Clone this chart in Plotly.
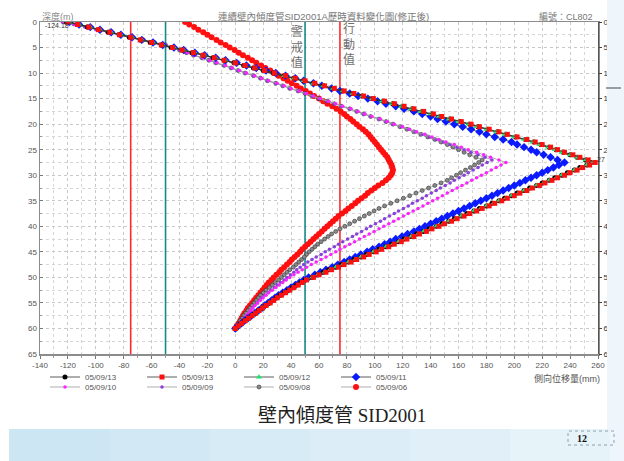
import plotly.graph_objects as go

# ---------------- data ----------------
depth_m = [0.0, 0.5, 1.0, 1.5, 2.0, 2.5, 3.0, 3.5, 4.0, 4.5, 5.0, 5.5, 6.0, 6.5, 7.0, 7.5, 8.0, 8.5, 9.0, 9.5,
           10.0, 10.5, 11.0, 11.5, 12.0, 12.5, 13.0, 13.5, 14.0, 14.5, 15.0, 15.5, 16.0, 16.5, 17.0, 17.5, 18.0, 18.5, 19.0, 19.5,
           20.0, 20.5, 21.0, 21.5, 22.0, 22.5, 23.0, 23.5, 24.0, 24.5, 25.0, 25.5, 26.0, 26.5, 27.0, 27.5, 28.0, 28.5, 29.0, 29.5,
           30.0, 30.5, 31.0, 31.5, 32.0, 32.5, 33.0, 33.5, 34.0, 34.5, 35.0, 35.5, 36.0, 36.5, 37.0, 37.5, 38.0, 38.5, 39.0, 39.5,
           40.0, 40.5, 41.0, 41.5, 42.0, 42.5, 43.0, 43.5, 44.0, 44.5, 45.0, 45.5, 46.0, 46.5, 47.0, 47.5, 48.0, 48.5, 49.0, 49.5,
           50.0, 50.5, 51.0, 51.5, 52.0, 52.5, 53.0, 53.5, 54.0, 54.5, 55.0, 55.5, 56.0, 56.5, 57.0, 57.5, 58.0, 58.5, 59.0, 59.5,
           60.0]

s_0913_black = [-121, -113, -106, -98, -91, -83, -76, -68, -61, -53, -46, -38, -31, -23, -16, -8, -1,
                6, 13, 20, 27, 35, 42, 49, 56, 63, 70, 77, 84, 91, 98, 106, 113, 120, 127, 134,
                141, 147, 154, 161, 168, 174, 181, 188, 194, 201, 208, 214,
                219, 225, 230, 235, 240, 245, 251, 255,
                252, 247, 243, 238, 234, 229, 225, 220, 216, 211, 207, 202, 198, 193, 189, 184, 180, 175, 171, 166,
                162, 157, 153, 148, 144, 139, 135, 130, 126, 121, 117, 112, 108, 103, 99, 94, 90, 85, 81, 76,
                72, 67, 63, 59, 55, 50,
                47, 44, 41, 38, 35, 32, 29.5, 27, 24.5, 21.5, 19, 16.5, 14, 11.5, 9, 6.5, 4, 2, 0]

s_0913_red = [-120, -113, -105, -98, -90, -83, -75, -68, -60, -53, -45, -38, -30, -23, -15, -8, 0,
              7, 14, 21, 28, 36, 43, 50, 57, 64, 71, 78, 85, 92, 99, 107, 114, 121, 128, 135,
              142, 148, 155, 162, 169, 175, 182, 189, 195, 202, 209, 215,
              220, 226, 231, 236, 242, 247, 253, 258,
              254, 249, 245, 240, 236, 231, 227, 222, 218, 213, 209, 204, 200, 195, 191, 186, 182, 177, 173, 168,
              164, 159, 155, 150, 146, 141, 137, 132, 128, 123, 119, 114, 110, 105, 101, 96, 92, 87, 83, 78,
              74, 69, 65, 60, 56, 51,
              48, 45, 42, 39, 36, 33, 30, 27.5, 25, 22, 19.5, 17, 14.5, 12, 9.5, 7, 4.5, 2, 0]

s_0912 = [-119, -112, -104, -97, -89, -82, -74, -67, -59, -52, -44, -37, -29, -22, -14, -7, 0,
          7, 14, 21, 28, 35, 42, 49, 56, 63, 70, 77, 84, 91, 98, 105, 112, 119, 126, 133,
          140, 146, 153, 160, 167, 173, 180, 187, 193, 200, 207, 213,
          218, 224, 229, 234, 240, 245, 251, 256,
          252, 248, 243, 239, 234, 230, 225, 221, 216, 212, 207, 203, 198, 194, 189, 185, 180, 176, 171, 167,
          162, 158, 153, 149, 144, 140, 135, 131, 126, 122, 117, 113, 108, 104, 99, 95, 90, 86, 81, 77,
          72, 68, 64, 59, 55, 51,
          48, 45, 42, 39, 36, 33, 30, 27, 24.5, 22, 19.5, 17, 14.5, 12, 9.5, 7, 4.5, 2, 0]

s_0911 = [-119, -112, -104, -97, -89, -82, -74, -67, -59, -52, -44, -37, -29, -22, -14, -7, 1,
          8, 15, 22, 29, 36, 43, 49, 56, 62, 69, 75, 82, 88, 95, 102, 108, 115, 121, 128,
          134, 140, 145, 151, 157, 163, 169, 175, 180, 186, 192, 198,
          202, 207, 212, 216, 221, 226, 231, 236,
          232, 228, 224, 220, 216, 212, 208, 204, 200, 196, 192, 188, 184, 180, 176, 172, 168, 164, 160, 156,
          152, 148, 144, 140, 136,
          132, 128, 123.5, 119.5, 115, 111, 107, 103, 98.5, 94.5, 90, 86, 82, 78, 73.5, 69.5, 65, 61, 57, 52.5, 49,
          46, 43, 40, 37, 34, 31, 28.5, 26, 23.5, 21, 19, 16.5, 14, 11.5, 9, 6.5, 4.5, 2, 0]

s_0910 = [-123, -115, -107, -99, -91, -83, -74, -66, -58, -50,
          -45, -39, -34, -29, -23, -18, -13, -7, -2, 3, 8, 14, 19, 24, 30, 35, 40, 46, 51, 56,
          61, 67, 72, 77, 83, 88, 93, 98, 104, 109, 114, 120, 125, 130, 136, 141, 146, 151, 157, 162,
          167, 173, 178, 183, 189, 194,
          190.5, 187, 183.5, 180, 176.5, 173, 169.5, 166, 162.5, 159, 155.5, 152, 148.5, 145, 141.5, 138,
          134.5, 131, 127.5, 124, 120.5, 117, 113.5, 110, 106.5, 103, 99.5, 96, 92.5, 89, 85.5, 82, 78.5, 75,
          72, 68.5, 65, 61.5, 58, 54.5, 51, 48, 45, 42, 39, 36.5, 34, 31.5, 29, 26.5, 24, 22, 20, 18,
          16, 14, 12.5, 11, 9.5, 8, 6.5, 5, 3.5, 1.5, 0]

s_0909 = [-124, -116, -108, -100, -92, -84, -75, -67, -59, -51,
          -46, -40, -35, -30, -24, -19, -14, -8, -3, 2, 7, 13, 18, 23, 29, 34, 39, 45, 50, 55,
          60, 66, 71, 76, 82, 87, 92, 97, 103, 108, 113,
          119, 124, 129, 134, 139, 144, 149, 154, 159, 164, 169, 174, 179, 184,
          180.5, 177, 174, 170.5, 167, 164, 160.5, 157, 154, 150.5, 147, 144, 140.5, 137, 134, 130.5,
          127, 124, 120.5, 117, 114, 110.5, 107, 104, 100.5, 97, 94, 90.5, 87, 84, 80.5, 77, 74,
          71, 67.5, 64.5, 61.5, 58, 55, 52, 49,
          46.5, 44, 42, 39.5, 37, 35, 32.5, 30, 28, 25.5, 23.5, 21, 19,
          17.5, 16, 14, 12.5, 11, 9.5, 8, 6.5, 5, 3, 1.5, 0]

s_0908 = [-122, -114, -106, -98, -90, -82, -74, -66, -58, -50,
          -46, -40, -35, -30, -24, -19, -14, -8, -3, 2, 7, 13, 18, 23, 29, 34, 39, 45, 50, 55,
          60, 66, 71, 76, 82, 87, 92, 97, 103,
          108, 113, 118, 123, 128, 133, 138, 143, 147.5, 152, 156, 160, 164, 168, 172.5, 177,
          174.5, 171.5, 168.5, 165, 161.5, 158.5, 155, 152, 147.5, 143, 138.5, 134, 129.5, 125, 120.5, 116,
          111.5, 107, 103, 99.5, 96, 92.5, 89, 85.5, 82, 78.5, 75, 72, 69, 66.5, 64, 61.5, 59, 57, 55, 53,
          51, 49.5, 47.5, 45.5, 43.5, 41.5, 39, 37, 35, 33, 31, 28.5, 26.5, 24.5, 22, 20, 18, 16.5, 15, 13.5,
          12, 10.5, 9, 7.5, 6, 5, 3.5, 2.5, 1, 0]

s_0906 = [-36, -33, -29.5, -26.5, -23, -20, -17, -13.5, -10.5, -7, -4, -0.5, 2.5, 5.5, 9, 12, 15, 18.5, 21.5, 25,
          28, 31, 34.5, 37.5, 40.5, 44, 47, 50.5, 53.5, 56.5, 60, 63, 66, 69.5, 72.5, 75.5,
          78, 80, 82.5, 84.5, 87, 89, 91.5, 93.5, 95.5,
          97, 98.5, 100, 101.5, 103, 104.5, 106, 107.5, 109, 110, 111, 112, 112.5, 113, 112.5, 111.5, 110, 108,
          105.5, 102.5, 100,
          97.5, 95, 93, 90.5, 88, 86, 83.5, 81, 79, 76.5, 74,
          72, 70, 68, 66, 64, 62, 60, 58, 56, 54, 52, 50,
          48, 46.5, 44.5, 42.5, 40.5, 39, 37, 35, 33, 31.5, 29.5, 27.5, 26, 24,
          22.5, 21, 19.5, 18, 16.5, 15, 13.5, 12, 10.5, 9, 8,
          6.5, 5.5, 4.5, 3.5, 2.5, 1, 0]

series_names = ["05/09/13", "05/09/13", "05/09/12", "05/09/11",
                "05/09/10", "05/09/09", "05/09/08", "05/09/06"]

x_ticks = [-140, -120, -100, -80, -60, -40, -20, 0, 20, 40, 60, 80, 100, 120, 140, 160, 180, 200, 220, 240, 260]
x_tick_labels = ["-140", "-120", "-100", "-80", "-60", "-40", "-20", "0", "20", "40", "60", "80", "100",
                 "120", "140", "160", "180", "200", "220", "240", "260"]
y_ticks = [0, 5, 10, 15, 20, 25, 30, 35, 40, 45, 50, 55, 60, 65]
depth_span = [0, 65]
alert_lines = [-50, 50]      # 警戒值 (teal)
action_lines = [-75, 75]     # 行動值 (red)

# ---------------- figure ----------------
W, H = 624, 461
ML, MR, MT, MB = 40, 26, 22, 107
PW, PH = W - ML - MR, H - MT - MB


def px_x(p):
    return (p - ML) / PW


def px_y(p):
    return (H - MB - p) / PH


fig = go.Figure()

# threshold lines first (drawn under the curves, above the dotted grid)
for v in action_lines:
    fig.add_trace(go.Scatter(x=[v, v], y=depth_span, mode="lines", showlegend=False,
                             line=dict(color="#ff2a2a", width=1.6), hoverinfo="skip"))
for v in alert_lines:
    fig.add_trace(go.Scatter(x=[v, v], y=depth_span, mode="lines", showlegend=False,
                             line=dict(color="#16898a", width=1.6), hoverinfo="skip"))

styles = [
    # (values, name, marker colour, symbol, size, line colour, legend, rank, outline)
    (s_0906, series_names[7], "#ff1010", "circle", 6, "#999999", "legend2", 8, None),
    (s_0908, series_names[6], "#8a8a8a", "circle", 4, "#999999", "legend2", 7, "#333333"),
    (s_0909, series_names[5], "#8a3de0", "circle", 3.5, "#999999", "legend2", 6, None),
    (s_0910, series_names[4], "#ff22ff", "circle", 3.5, "#999999", "legend2", 5, None),
    (s_0911, series_names[3], "#0a1aff", "diamond", 6.5, "#333333", "legend", 4, None),
    (s_0913_black, series_names[0], "#000000", "circle", 5, "#333333", "legend", 1, None),
    (s_0912, series_names[2], "#22e070", "triangle-up", 5.5, "#333333", "legend", 3, None),
    (s_0913_red, series_names[1], "#ff1010", "square", 5, "#333333", "legend", 2, None),
]

for vals, name, mcol, sym, size, lcol, leg, rank, outline in styles:
    marker = dict(color=mcol, symbol=sym, size=size)
    if outline:
        marker["line"] = dict(color=outline, width=0.6)
    fig.add_trace(go.Scatter(
        x=vals, y=depth_m, mode="lines+markers", name=name,
        line=dict(color=lcol, width=0.8), marker=marker,
        legend=leg, legendrank=rank, hoverinfo="skip"))

# invisible helper so that the mirrored right-hand depth axis is drawn
fig.add_trace(go.Scatter(x=[0], y=[0], yaxis="y2", mode="markers",
                         marker=dict(opacity=0), showlegend=False, hoverinfo="skip"))

shapes = []
# slide decorations: right strip, bottom band, page-number box, small dash
shapes.append(dict(type="rect", xref="paper", yref="paper", x0=px_x(607), x1=px_x(W + 5),
                   y0=px_y(H + 5), y1=px_y(-5), line=dict(width=0), fillcolor="#eef6fb", layer="above"))
band_cols = ["#cde6f4", "#d2e9f5", "#d7ebf6", "#dcedf7", "#e1f0f8", "#e6f3f9"]
bx = [9, 110, 210, 310, 410, 510, 610]
for i, c in enumerate(band_cols):
    shapes.append(dict(type="rect", xref="paper", yref="paper", x0=px_x(bx[i]), x1=px_x(bx[i + 1]),
                       y0=px_y(H + 5), y1=px_y(429), line=dict(width=0), fillcolor=c, layer="above"))
shapes.append(dict(type="rect", xref="paper", yref="paper", x0=px_x(568), x1=px_x(614),
                   y0=px_y(445), y1=px_y(431), line=dict(width=1, color="#8aa0b0", dash="dot"),
                   fillcolor="rgba(0,0,0,0)", layer="above"))
shapes.append(dict(type="line", xref="paper", yref="paper", x0=px_x(606), x1=px_x(621),
                   y0=px_y(88), y1=px_y(88), line=dict(color="#444444", width=1), layer="above"))

grey = "#6e6e6e"
annotations = [
    dict(text="深度(m)", x=px_x(40), y=px_y(16), xanchor="left", yanchor="middle",
         font=dict(size=9, color="#8a8a8a")),
    dict(text="連續壁內傾度管SID2001A歷時資料變化圖(修正後)", x=px_x(323), y=px_y(16),
         xanchor="center", yanchor="middle", font=dict(size=9.5, color="#777777")),
    dict(text="編號：CL802", x=px_x(595), y=px_y(16), xanchor="right", yanchor="middle",
         font=dict(size=9, color="#777777")),
    dict(text="警<br>戒<br>值", x=px_x(297), y=px_y(47), xanchor="center", yanchor="middle",
         font=dict(size=12, color=grey)),
    dict(text="行<br>動<br>值", x=px_x(349), y=px_y(44), xanchor="center", yanchor="middle",
         font=dict(size=12, color=grey)),
    dict(text="-124.18", x=px_x(43), y=px_y(25), xanchor="left", yanchor="middle",
         font=dict(size=7, color="#333333")),
    dict(text="27", x=px_x(601), y=px_y(160), xanchor="center", yanchor="middle",
         font=dict(size=7, color="#333333")),
    dict(text="側向位移量(mm)", x=px_x(602), y=px_y(378), xanchor="right", yanchor="middle",
         font=dict(size=9, color="#555555")),
    dict(text="壁內傾度管 SID2001", x=px_x(342), y=px_y(415), xanchor="center", yanchor="middle",
         font=dict(size=19, color="#222222", family="Liberation Serif, Noto Sans CJK TC")),
    dict(text="<b>12</b>", x=px_x(582), y=px_y(438), xanchor="center", yanchor="middle",
         font=dict(size=10, color="#111111", family="Liberation Serif")),
]
for a in annotations:
    a.update(xref="paper", yref="paper", showarrow=False)

grid_kw = dict(showgrid=True, gridcolor="#c9c9c9", griddash="dot", gridwidth=1)

legend_common = dict(orientation="h", xanchor="left", yanchor="middle",
                     entrywidth=52, entrywidthmode="pixels", bgcolor="rgba(0,0,0,0)",
                     font=dict(size=8, color="#555555"), traceorder="normal", itemwidth=30)

fig.update_layout(
    width=W, height=H, autosize=False,
    margin=dict(l=ML, r=MR, t=MT, b=MB, autoexpand=False),
    paper_bgcolor="white", plot_bgcolor="white",
    font=dict(family="Liberation Sans, Noto Sans CJK TC", size=8, color="#555555"),
    xaxis=dict(range=[-140, 260], tickvals=x_ticks, ticktext=x_tick_labels, ticks="outside",
               ticklen=3, tickcolor="#777",
               tickfont=dict(size=8, color="#555555"), linecolor="#8c8c8c", linewidth=1.5,
               showline=True, mirror=True, zeroline=False, automargin=False,
               minor=dict(dtick=10, showgrid=True, gridcolor="#d6d6d6", griddash="dot",
                          ticks="outside", ticklen=2, tickcolor="#999"),
               **grid_kw),
    yaxis=dict(range=[65, 0], tickvals=y_ticks, ticks="inside", ticklen=3, tickcolor="#777",
               tickfont=dict(size=8, color="#555555"), linecolor="#8c8c8c", linewidth=1.5,
               showline=True, mirror=True, zeroline=False, automargin=False,
               minor=dict(dtick=2.5, showgrid=True, gridcolor="#d6d6d6", griddash="dot",
                          ticks="inside", ticklen=2, tickcolor="#999"),
               **grid_kw),
    yaxis2=dict(range=[65, 0], tickvals=y_ticks, overlaying="y", side="right", automargin=False,
                ticks="outside", ticklen=3, tickcolor="#444", showline=True, linecolor="#555",
                linewidth=1, tickfont=dict(size=8, color="#333333"), showgrid=False, zeroline=False),
    legend=dict(x=px_x(45), y=px_y(377), **legend_common),
    legend2=dict(x=px_x(45), y=px_y(387), **legend_common),
    shapes=shapes,
    annotations=annotations,
    showlegend=True,
)

fig.write_html("out.html", config={"displayModeBar": False, "staticPlot": True},
               post_script="document.body.style.margin='0';document.body.style.overflow='hidden';")
